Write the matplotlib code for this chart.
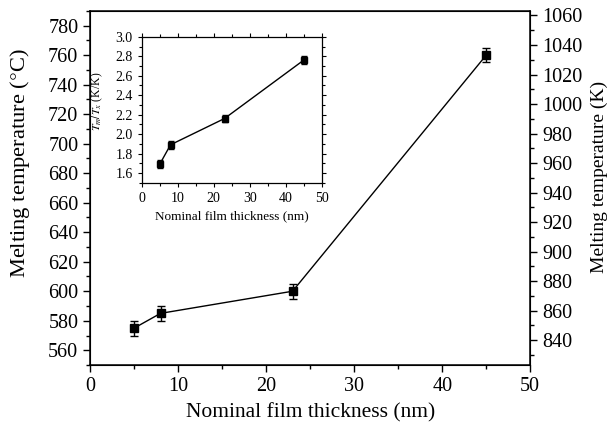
import matplotlib
matplotlib.use("Agg")
import matplotlib.pyplot as plt
from matplotlib.ticker import MultipleLocator

plt.rcParams['font.family'] = ['Liberation Serif', 'DejaVu Serif']
plt.rcParams['mathtext.fontset'] = 'stix'

# data
thickness = [5, 8, 23, 45]
tm_c = [575, 585, 600, 760]
tm_err = [5, 5, 5, 5]
ratio = [1.69, 1.89, 2.16, 2.76]
ratio_err = [0.04, 0.04, 0.04, 0.04]

fig = plt.figure(figsize=(6.13, 4.33), dpi=100)
ax = fig.add_axes([0.147, 0.157, 0.718, 0.818])

ax.errorbar(thickness, tm_c, yerr=tm_err, color='black', marker='s', ms=6,
            lw=1, capsize=3, elinewidth=1, capthick=1)
ax.set_xlim(0, 50)
ax.set_ylim(550, 790)
ax.xaxis.set_major_locator(MultipleLocator(10))
ax.xaxis.set_minor_locator(MultipleLocator(5))
ax.yaxis.set_minor_locator(MultipleLocator(10))
ax.set_yticks(range(560, 781, 20))
ax.tick_params(which='major', direction='out', length=5, width=1, labelsize=14.5)
ax.tick_params(which='minor', direction='out', length=3, width=1)
ax.set_xlabel('Nominal film thickness (nm)', fontsize=15.5, labelpad=5)
ax.set_ylabel('Melting temperature ($\\degree$C)', fontsize=16.2)
ax.yaxis.set_label_coords(-0.131, 0.571)
for s in ax.spines.values():
    s.set_linewidth(1.1)

# right axis in kelvin
ax2 = ax.twinx()
ax2.set_ylim(550 + 273.15, 790 + 273.15)
ax2.set_yticks(range(840, 1061, 20))
ax2.yaxis.set_minor_locator(MultipleLocator(10))
ax2.tick_params(which='major', direction='out', length=5, width=1, labelsize=14.5)
ax2.tick_params(which='minor', direction='out', length=3, width=1)
ax2.set_ylabel('Melting temperature (K)', fontsize=14)
ax2.yaxis.set_label_coords(1.138, 0.531)

# inset
ins = fig.add_axes([0.2312, 0.578, 0.2936, 0.337])
ins.errorbar(thickness, ratio, yerr=ratio_err, color='black', marker='s', ms=5,
             lw=1, capsize=2, elinewidth=1, capthick=1)
ins.set_xlim(0, 50)
ins.set_ylim(1.5, 3.0)
ins.xaxis.set_major_locator(MultipleLocator(10))
ins.xaxis.set_minor_locator(MultipleLocator(5))
ins.set_yticks([1.6, 1.8, 2.0, 2.2, 2.4, 2.6, 2.8, 3.0])
ins.yaxis.set_minor_locator(MultipleLocator(0.1))
ins.tick_params(which='both', direction='out', labelsize=10, top=True, right=True)
ins.tick_params(which='major', length=3, width=0.8)
ins.tick_params(which='minor', length=2, width=0.8)
ins.set_xlabel('Nominal film thickness (nm)', fontsize=9.5)
ins.set_ylabel('$T_m/T_x$ (K/K)', fontsize=8.5)
ins.yaxis.set_label_coords(-0.205, 0.56)
for s in ins.spines.values():
    s.set_linewidth(0.9)

fig.savefig('out.png', dpi=100)
